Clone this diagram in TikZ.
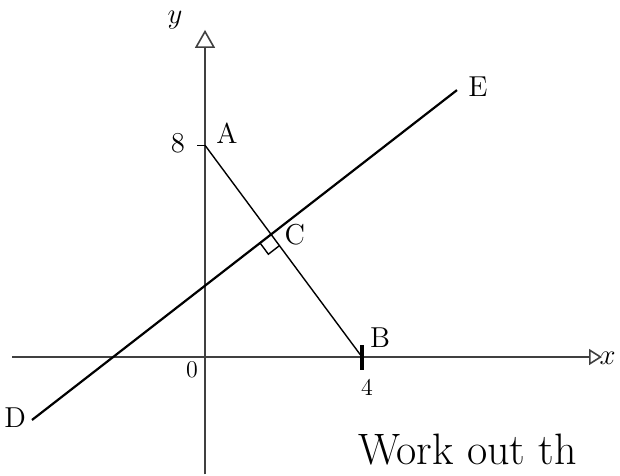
\documentclass[tikz,border=0pt]{standalone}
\usepackage{tikz}
\usetikzlibrary{positioning, arrows.meta, calc}

\begin{document}
\begin{tikzpicture}[x=19.625pt, y=13.2pt,
  axisline/.style={black!75, line width=0.8pt},
  lbl/.style={font=\Large, inner sep=1pt}]
\useasboundingbox (-5.223,-4.470) rectangle (10.573,13.523);
% points
\coordinate (O) at (0,0);
\coordinate (A) at (0,8.02);
\coordinate (B) at (4,0);
\coordinate (D) at (-4.408,-2.386);
\coordinate (E) at (6.42,10.11);
\coordinate (xl) at (-4.917,0);
\coordinate (xr) at (10.115,0);
\coordinate (yb) at (0,-4.45);
\coordinate (yt) at (0,12.39);
% axes
\draw[axisline, -{Triangle[open, length=6.5pt, width=8pt]}] (xl) -- (xr);
\draw[axisline, -{Triangle[open, length=9pt, width=10pt]}] (yb) -- (yt);
% ticks
\draw[line width=0.7pt] (A) -- ++(-0.2,0);
\draw[line width=1.6pt] ($(B)+(0,0.45)$) -- ($(B)+(0,-0.49)$);
% lines
\draw[line width=0.7pt] (A) -- (B);
\draw[line width=1.1pt] (D) -- (E);
\coordinate (C) at (intersection of A--B and D--E);
\coordinate (cd) at ($(C)!7pt!(D)$);
\coordinate (cb) at ($(C)!7pt!(B)$);
\draw[line width=0.7pt] (cd) -- ($(cd)+(cb)-(C)$) -- (cb);
% labels
\node[lbl] (lA) at (0.56,8.48) {A};
\node[lbl] (lB) at (4.46,0.72) {B};
\node[lbl] (lC) at (2.29,4.62) {C};
\node[lbl] (lD) at (-4.84,-2.31) {D};
\node[lbl] (lE) at (6.955,10.23) {E};
\node[lbl] (l8) at (-0.69,8.1) {8};
\node[font=\large] (l4) at (4.13,-1.14) {4};
\node[font=\large] (l0) at (-0.33,-0.49) {0};
\node[lbl] (lx) at (10.26,-0.04) {$x$};
\node[lbl] (ly) at (-0.764,12.77) {$y$};
\node[anchor=west, font=\fontsize{22}{26}\selectfont] (work) at (3.72,-3.52) {Work out th};
\end{tikzpicture}
\end{document}
